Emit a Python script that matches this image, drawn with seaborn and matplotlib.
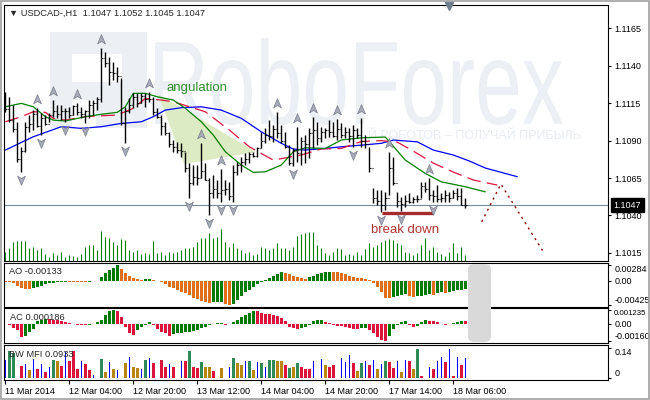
import numpy as np
import pandas as pd
import seaborn as sns
import matplotlib.pyplot as plt
from matplotlib.path import Path
from matplotlib.patches import Polygon, Rectangle, FancyBboxPatch, PathPatch
from matplotlib.textpath import TextPath
from matplotlib.font_manager import FontProperties
from matplotlib.transforms import Affine2D, offset_copy

# ---- data (USDCAD H1, one bar per index) ----
symbol = 'USDCAD-,H1'
first_open = 1.1115

highs = [
    1.11227, 1.11193, 1.11138, 1.11026, 1.10859, 1.11026, 1.11071, 1.11104, 1.11116, 1.11082,
    1.11071, 1.11082, 1.11171, 1.11138, 1.11138, 1.11116, 1.11126, 1.11138, 1.11149, 1.11126,
    1.11104, 1.11171, 1.11171, 1.11193, 1.11516, 1.11494, 1.11460, 1.11427, 1.11394, 1.11316,
    1.11126, 1.11182, 1.11216, 1.11216, 1.11216, 1.11216, 1.11227, 1.11193, 1.11116, 1.11071,
    1.11026, 1.10959, 1.10904, 1.10893, 1.10882, 1.10826, 1.10748, 1.10737, 1.10737, 1.10882,
    1.10748, 1.10648, 1.10670, 1.10637, 1.10710, 1.10637, 1.10625, 1.10737, 1.10759, 1.10792,
    1.10815, 1.10826, 1.10826, 1.10859, 1.10959, 1.10982, 1.11037, 1.11004, 1.11093, 1.11004,
    1.10959, 1.10870, 1.10848, 1.10991, 1.10926, 1.10937, 1.10982, 1.11057, 1.11026, 1.10993,
    1.10982, 1.11037, 1.11026, 1.11044, 1.11015, 1.10993, 1.10982, 1.11004, 1.10982, 1.11049,
    1.10937, 1.10859, 1.10581, 1.10570, 1.10570, 1.10559, 1.10826, 1.10792, 1.10559, 1.10525,
    1.10536, 1.10548, 1.10525, 1.10536, 1.10625, 1.10625, 1.10650, 1.10570, 1.10603, 1.10548,
    1.10570, 1.10559, 1.10570, 1.10581, 1.10581, 1.10520]
lows = [
    1.11093, 1.11026, 1.10959, 1.10759, 1.10692, 1.10826, 1.10959, 1.10971, 1.10993, 1.10937,
    1.11004, 1.11026, 1.11060, 1.11049, 1.11037, 1.11026, 1.11049, 1.11071, 1.11071, 1.11049,
    1.11015, 1.11049, 1.11071, 1.11104, 1.11160, 1.11394, 1.11271, 1.11305, 1.11293, 1.11004,
    1.10882, 1.11082, 1.11116, 1.11126, 1.11149, 1.11126, 1.11160, 1.11071, 1.11049, 1.10937,
    1.10937, 1.10859, 1.10826, 1.10815, 1.10792, 1.10692, 1.10514, 1.10603, 1.10603, 1.10648,
    1.10637, 1.10403, 1.10514, 1.10514, 1.10490, 1.10536, 1.10503, 1.10492, 1.10670, 1.10692,
    1.10737, 1.10748, 1.10792, 1.10792, 1.10848, 1.10882, 1.10904, 1.10893, 1.10915, 1.10882,
    1.10848, 1.10737, 1.10730, 1.10759, 1.10737, 1.10748, 1.10782, 1.10848, 1.10870, 1.10893,
    1.10915, 1.10926, 1.10926, 1.10904, 1.10915, 1.10915, 1.10893, 1.10859, 1.10915, 1.10859,
    1.10848, 1.10692, 1.10481, 1.10470, 1.10425, 1.10436, 1.10536, 1.10603, 1.10458, 1.10430,
    1.10458, 1.10481, 1.10481, 1.10492, 1.10514, 1.10559, 1.10503, 1.10490, 1.10492, 1.10492,
    1.10492, 1.10492, 1.10514, 1.10503, 1.10470, 1.10450]
closes = [
    1.1111, 1.1104, 1.1098, 1.1078, 1.1083, 1.1099, 1.1101, 1.1108, 1.1100, 1.1105,
    1.1101, 1.1107, 1.1110, 1.1108, 1.1110, 1.1110, 1.1107, 1.1113, 1.1109, 1.1108,
    1.1110, 1.1114, 1.1115, 1.1118, 1.1145, 1.1142, 1.1136, 1.1135, 1.1133, 1.1102,
    1.1110, 1.1114, 1.1119, 1.1115, 1.1120, 1.1118, 1.1118, 1.1109, 1.1106, 1.1100,
    1.1095, 1.1088, 1.1086, 1.1084, 1.1083, 1.1072, 1.1062, 1.1066, 1.1065, 1.1070,
    1.1064, 1.1055, 1.1058, 1.1055, 1.1057, 1.1058, 1.1053, 1.1069, 1.1074, 1.1076,
    1.1078, 1.1081, 1.1080, 1.1085, 1.1090, 1.1094, 1.1093, 1.1098, 1.1095, 1.1090,
    1.1086, 1.1075, 1.1084, 1.1082, 1.1090, 1.1088, 1.1095, 1.1097, 1.1092, 1.1096,
    1.1097, 1.1096, 1.1093, 1.1098, 1.1094, 1.1096, 1.1093, 1.1097, 1.1094, 1.1090,
    1.1088, 1.1072, 1.1052, 1.1050, 1.1047, 1.1052, 1.1072, 1.1062, 1.1050, 1.1048,
    1.1050, 1.1049, 1.1051, 1.1051, 1.1060, 1.1058, 1.1054, 1.1053, 1.1051, 1.1052,
    1.1054, 1.1052, 1.1055, 1.1053, 1.1047, 1.1047]
volumes = [
    930, 1270, 1930, 1970, 1970, 1970, 1270, 1400, 1070, 1270,
    700, 430, 830, 630, 930, 430, 600, 530, 430, 700,
    1400, 1570, 1630, 1070, 2970, 2400, 2300, 1900, 1570, 2230,
    2070, 1070, 930, 1070, 700, 830, 700, 1970, 770, 930,
    600, 930, 770, 930, 1100, 1330, 1330, 1430, 1930, 2330,
    2270, 2770, 2270, 2430, 3200, 1930, 1430, 1770, 1330, 1070,
    830, 930, 600, 670, 1430, 1330, 1100, 1270, 1770, 1330,
    1270, 1100, 1430, 2530, 2670, 2770, 2870, 2870, 1600, 1270,
    770, 600, 930, 1270, 1200, 600, 670, 600, 930, 600,
    1200, 1770, 1430, 1600, 1930, 2100, 2200, 2100, 1770, 1600,
    930, 830, 600, 770, 1600, 2270, 1100, 1430, 870, 670,
    530, 930, 1770, 770, 1400, 600]

up_fractals = [8, 12, 18, 24, 36, 49, 54, 68, 73, 77, 83, 89, 96, 106]
down_fractals = [4, 9, 15, 20, 30, 46, 51, 54, 57, 72, 87, 94, 99, 107]

# Alligator (shifted forward past the last bar)
jaw_k = [0, 7, 14, 19, 24, 29, 34, 37, 40, 44, 49, 54, 59, 64, 69, 72, 75, 80, 84, 89,
         94, 97, 103, 107, 112, 116, 120, 128]
jaw = [1.10837, 1.10926, 1.10993, 1.10982, 1.10993, 1.11015, 1.11026, 1.11060, 1.11104, 1.11120,
       1.11126, 1.11104, 1.11049, 1.10959, 1.10882, 1.10844, 1.10837, 1.10848, 1.10859, 1.10870,
       1.10882, 1.10904, 1.10892, 1.10837, 1.10804, 1.10764, 1.10717, 1.10659]
teeth_k = [0, 4, 7, 10, 12, 15, 20, 24, 28, 32, 35, 39, 42, 50, 56, 61, 67, 74, 79, 84,
           89, 94, 98, 102, 107, 112, 117, 123]
teeth = [1.11026, 1.11060, 1.11093, 1.11089, 1.11049, 1.11037, 1.11060, 1.11066, 1.11071, 1.11116,
         1.11182, 1.11171, 1.11160, 1.11093, 1.10971, 1.10859, 1.10770, 1.10804, 1.10844, 1.10848,
         1.10894, 1.10900, 1.10890, 1.10830, 1.10750, 1.10690, 1.10637, 1.10603]
lips_k = [0, 4, 7, 10, 12, 15, 20, 24, 28, 30, 32, 35, 38, 42, 45, 49, 52, 55, 59, 62,
          65, 69, 72, 75, 80, 84, 89, 95, 100, 105, 109, 115, 120]
lips = [1.11126, 1.11149, 1.11126, 1.11060, 1.11037, 1.11031, 1.11060, 1.11076, 1.11089, 1.11126,
        1.11216, 1.11216, 1.11193, 1.11171, 1.11116, 1.11026, 1.10937, 1.10826, 1.10737, 1.10688,
        1.10692, 1.10737, 1.10826, 1.10852, 1.10848, 1.10904, 1.10919, 1.10924, 1.10770, 1.10681,
        1.10625, 1.10592, 1.10558]

ao = [
    -0.00012, -0.00024, -0.00041, -0.00083, -0.00130, -0.00142, -0.00148, -0.00130, -0.00100, -0.00083,
    -0.00059, -0.00041, -0.00030, -0.00024, -0.00018, -0.00010, -0.00012, -0.00014, -0.00015, -0.00016,
    -0.00017, -0.00010, -0.00005, 0.00005, 0.00077, 0.00136, 0.00195, 0.00236, 0.00284, 0.00212,
    0.00136, 0.00094, 0.00059, 0.00035, 0.00024, 0.00035, 0.00036, 0.00024, 0.00002, -0.00024,
    -0.00059, -0.00100, -0.00130, -0.00160, -0.00189, -0.00218, -0.00248, -0.00295, -0.00325, -0.00354,
    -0.00366, -0.00385, -0.00380, -0.00375, -0.00370, -0.00410, -0.00425, -0.00400, -0.00340, -0.00265,
    -0.00200, -0.00160, -0.00100, -0.00060, -0.00024, 0.00024, 0.00060, 0.00094, 0.00118, 0.00153,
    0.00150, 0.00118, 0.00094, 0.00071, 0.00047, 0.00035, 0.00071, 0.00094, 0.00118, 0.00136,
    0.00153, 0.00165, 0.00160, 0.00153, 0.00136, 0.00118, 0.00094, 0.00071, 0.00059, 0.00055,
    0.00035, 0.00012, -0.00041, -0.00100, -0.00200, -0.00295, -0.00300, -0.00277, -0.00260, -0.00248,
    -0.00236, -0.00260, -0.00277, -0.00270, -0.00260, -0.00248, -0.00236, -0.00240, -0.00218, -0.00200,
    -0.00206, -0.00189, -0.00177, -0.00165, -0.00153, -0.00133]
ac = [
    -0.00005, -0.00015, -0.00040, -0.00060, -0.00120, -0.00115, -0.00075, -0.00050, 0.00020, 0.00035,
    0.00045, 0.00040, 0.00035, 0.00030, 0.00025, 0.00010, 0.00005, -0.00005, -0.00010, -0.00012,
    -0.00015, -0.00010, -0.00005, 0.00010, 0.00030, 0.00080, 0.00110, 0.00123, 0.00110, 0.00060,
    -0.00030, -0.00090, -0.00105, -0.00060, -0.00030, -0.00010, 0.00010, -0.00010, -0.00050, -0.00080,
    -0.00090, -0.00110, -0.00100, -0.00090, -0.00085, -0.00080, -0.00075, -0.00070, -0.00060, -0.00040,
    -0.00030, -0.00010, -0.00005, 0.00002, 0.00005, -0.00010, -0.00005, 0.00010, 0.00030, 0.00060,
    0.00080, 0.00100, 0.00115, 0.00112, 0.00100, 0.00090, 0.00085, 0.00080, 0.00070, 0.00050,
    0.00020, -0.00030, -0.00040, -0.00050, -0.00040, -0.00030, -0.00010, 0.00020, 0.00030, 0.00035,
    0.00010, 0.00005, -0.00010, -0.00020, -0.00022, -0.00030, -0.00040, -0.00050, -0.00052, -0.00045,
    -0.00040, -0.00060, -0.00090, -0.00120, -0.00150, -0.00160, -0.00110, -0.00050, -0.00010, 0.00010,
    0.00020, -0.00010, -0.00030, -0.00020, 0.00010, 0.00030, 0.00025, 0.00020, 0.00010, 0.00000,
    -0.00010, -0.00005, 0.00005, 0.00015, 0.00020, 0.000186]
mfi = [
    0.085, 0.123, 0.116, 0.0, 0.057, 0.065, 0.039, 0.090, 0.042, 0.067,
    0.028, 0.054, 0.083, 0.080, 0.057, 0.120, 0.077, 0.123, 0.044, 0.080,
    0.065, 0.039, 0.016, 0.0, 0.090, 0.031, 0.074, 0.044, 0.039, 0.0,
    0.070, 0.096, 0.051, 0.047, 0.044, 0.085, 0.093, 0.068, 0.0, 0.085,
    0.054, 0.067, 0.054, 0.0, 0.077, 0.077, 0.126, 0.053, 0.047, 0.073,
    0.051, 0.054, 0.036, 0.0, 0.047, 0.0, 0.051, 0.093, 0.070, 0.062,
    0.077, 0.077, 0.039, 0.074, 0.070, 0.054, 0.085, 0.085, 0.080, 0.080,
    0.062, 0.047, 0.050, 0.070, 0.054, 0.044, 0.044, 0.080, 0.0, 0.090,
    0.062, 0.054, 0.062, 0.0, 0.093, 0.074, 0.108, 0.070, 0.034, 0.070,
    0.077, 0.062, 0.085, 0.044, 0.065, 0.080, 0.073, 0.047, 0.080, 0.028,
    0.085, 0.077, 0.044, 0.135, 0.013, 0.0, 0.054, 0.044, 0.077, 0.096,
    0.073, 0.135, 0.013, 0.096, 0.062, 0.0933]
# BW MFI zones: G green, F fade, B fake, S squat, - nothing drawn
mfi_zone = ('BGG-SBFBSB' 'SBGFSBSSSB' 'SSB-GFBFB-' 'FBFFBGBS-S' 'SBS-BSGSSG'
            'FFS-F-BGFF' 'BGFBGBGGFF' 'SGFGSSSB-B' 'FSS-BBBSFG' 'BSBFBGSSBF'
            'BSFGS-BSBB' 'SBSBSB')

# analyst drawings
angle_k = [38.2, 44.7, 62.7]
angle_p = [1.11211, 1.10744, 1.10824]
break_k = [94.1, 107.0]
break_p = [1.10418, 1.10418]
proj_k = [119.1, 123.9, 134.5]
proj_p = [1.10358, 1.10610, 1.10158]

price_ticks = [1.1165, 1.1140, 1.1115, 1.1090, 1.1065, 1.1040, 1.1015]
time_ticks = [0, 16, 32, 48, 64, 80, 96, 112]
time_labels = ['11 Mar 2014', '12 Mar 04:00', '12 Mar 20:00', '13 Mar 12:00',
               '14 Mar 04:00', '14 Mar 20:00', '17 Mar 14:00', '18 Mar 06:00']

# ---- build frame ----
bars = pd.DataFrame({'high': highs, 'low': lows, 'close': closes, 'volume': volumes,
                     'ao': ao, 'ac': ac, 'mfi': mfi, 'zone': list(mfi_zone)})
bars['k'] = np.arange(len(bars))
bars['open'] = bars['close'].shift(1).fillna(first_open)

sns.set_style('white')
plt.rcParams['font.family'] = ['Liberation Sans', 'DejaVu Sans']
plt.rcParams['font.size'] = 6.5
plt.rcParams['axes.edgecolor'] = 'black'
plt.rcParams['axes.linewidth'] = 0.8

W, H = 650, 400


def px_rect(x0, y0, x1, y1):
    return [x0 / W, 1 - y1 / H, (x1 - x0) / W, (y1 - y0) / H]


fig = plt.figure(figsize=(6.5, 4), dpi=100, facecolor='white')
bg = fig.add_axes([0, 0, 1, 1], zorder=-5)
bg.set_xlim(0, W)
bg.set_ylim(H, 0)
bg.axis('off')

# watermark
wm_color = '#eceff3'
tp = TextPath((0, 0), 'RoboForex', size=100, prop=FontProperties(family='Liberation Sans'))
ext = tp.get_extents()
wm = Affine2D().translate(-ext.x0, -ext.y0).scale(408 / ext.width, -87 / ext.height).translate(155, 125)
bg.add_patch(PathPatch(tp, transform=wm + bg.transData, fc=wm_color, ec='none'))
bg.add_patch(Rectangle((50, 32), 97, 96, fc=wm_color, ec='none'))
bg.add_patch(Rectangle((72, 54), 50, 28, fc='white', ec='none'))
bg.add_patch(Rectangle((72, 100), 24, 28, fc='white', ec='none'))
bg.text(368, 136, 'Й РОБОТОВ – ПОЛУЧАЙ ПРИБЫЛЬ', fontsize=9, color='#e8ecf2', va='center')

ax = fig.add_axes(px_rect(4, 5, 608, 261))
ax_ao = fig.add_axes(px_rect(4, 263.3, 608, 306.7))
ax_ac = fig.add_axes(px_rect(4, 308.3, 608, 343.3))
ax_mfi = fig.add_axes(px_rect(4, 345, 608, 380))
for a in (ax, ax_ao, ax_ac, ax_mfi):
    a.set_facecolor('none')

# ---- main price panel ----
ax.add_patch(Polygon(list(zip(angle_k, angle_p)), closed=True, fc='#dcebc3', ec='none', zorder=0.5))
sns.lineplot(x=jaw_k, y=jaw, ax=ax, color='#0000ff', linewidth=0.9, zorder=2)
sns.lineplot(x=teeth_k, y=teeth, ax=ax, color='#dc143c', linewidth=0.9,
             linestyle=(0, (11, 5)), zorder=2)
sns.lineplot(x=lips_k, y=lips, ax=ax, color='#008000', linewidth=0.9, zorder=2)

ax.vlines(bars['k'], bars['low'], bars['high'], color='black', lw=1.0, zorder=3)
ax.hlines(bars['open'], bars['k'] - 0.45, bars['k'], color='black', lw=0.8, zorder=3)
ax.hlines(bars['close'], bars['k'], bars['k'] + 0.45, color='black', lw=0.8, zorder=3)

arrow_codes = [Path.MOVETO, Path.LINETO, Path.LINETO, Path.LINETO, Path.CLOSEPOLY]
up_arrow = Path([(0, 1), (0.8, -0.9), (0, -0.4), (-0.8, -0.9), (0, 1)], arrow_codes)
down_arrow = Path([(0, -1), (0.8, 0.9), (0, 0.4), (-0.8, 0.9), (0, -1)], arrow_codes)
up = bars.loc[up_fractals]
dn = bars.loc[down_fractals]
ax.plot(up['k'], up['high'], ls='none', marker=up_arrow, ms=7, mfc='#a8abb8', mec='#787c8c',
        mew=0.5, zorder=4, transform=offset_copy(ax.transData, fig=fig, y=9, units='dots'))
ax.plot(dn['k'], dn['low'], ls='none', marker=down_arrow, ms=7, mfc='#a8abb8', mec='#787c8c',
        mew=0.5, zorder=4, transform=offset_copy(ax.transData, fig=fig, y=-8, units='dots'))

last = bars.iloc[-1]
ax.axhline(last['close'], color='#7b8a99', lw=0.8, zorder=1)
ax.plot(break_k, break_p, color='#a52a2a', lw=2.4, solid_capstyle='butt', zorder=3)
ax.plot(proj_k, proj_p, color='#8b0000', lw=1.0, linestyle=(0, (1.5, 3)), zorder=3)
ax.text(47.9, 1.1125, 'angulation', color='#2f8f2f', fontsize=9.5, ha='center', va='center', zorder=5)
ax.text(99.9, 1.10303, 'break down', color='#b03434', fontsize=9.5, ha='center', va='center', zorder=5)

ax.text(0.008, 0.968, '▼ ' + symbol + '  ' + ' '.join(
    f'{v:.4f}' for v in (last['open'], last['high'], last['low'], last['close'])),
    transform=ax.transAxes, fontsize=6.7, va='center', ha='left', zorder=6)

ax.annotate(f"{last['close']:.4f}", xy=(1, last['close']), xycoords=('axes fraction', 'data'),
            xytext=(4, 0), textcoords='offset points', color='white', fontsize=6.5,
            va='center', ha='left', annotation_clip=False,
            bbox=dict(boxstyle='square,pad=0.3', fc='black', ec='black'))

axv = ax.twinx()
axv.vlines(bars['k'], 0, bars['volume'], color='#008000', lw=0.8)
axv.set_ylim(0, 25600)
axv.set_axis_off()
axv.set_zorder(-1)

# ---- indicator panels ----
ao_up = bars['ao'].diff() > 0
ax_ao.bar(bars['k'], bars['ao'], width=0.75, lw=0,
          color=np.where(ao_up, '#007a00', '#de6f1f'))
ac_up = bars['ac'].diff() > 0
ax_ac.bar(bars['k'], bars['ac'], width=0.75, lw=0,
          color=np.where(ac_up, '#007a00', '#dc143c'))
zone_colors = {'G': '#2e8b57', 'F': '#b8860b', 'S': '#dc143c', 'B': '#0000ff'}
wide = bars[bars['zone'].isin(['G', 'F', 'S'])]
thin = bars[bars['zone'] == 'B']
ax_mfi.bar(wide['k'], wide['mfi'], width=0.75, lw=0, color=[zone_colors[z] for z in wide['zone']])
ax_mfi.bar(thin['k'], thin['mfi'], width=0.28, lw=0, color=zone_colors['B'])

ax_ao.text(0.008, 0.80, f"AO {ao[-1]:.5f}", transform=ax_ao.transAxes, va='center', fontsize=6.7)
ax_ac.text(0.010, 0.73, f"AC {ac[-1]:.6f}", transform=ax_ac.transAxes, va='center', fontsize=6.7)
ax_mfi.text(0.008, 0.73, f"BW MFI {mfi[-1]:.4f}", transform=ax_mfi.transAxes, va='center', fontsize=6.7)

# ---- axes ----
for a in (ax, ax_ao, ax_ac, ax_mfi):
    a.set_xlim(-0.325, 150.675)
    a.set_xlabel('')
    a.set_ylabel('')
    a.yaxis.tick_right()
    a.tick_params(axis='y', which='both', direction='out', length=2.5, width=0.8, pad=2,
                  labelsize=6.5, colors='black', right=True, left=False)
    a.tick_params(axis='x', bottom=False, labelbottom=False)
    for s in a.spines.values():
        s.set_color('black')
        s.set_linewidth(0.8)

ax.set_ylim(1.10096, 1.11806)
ax.set_yticks(price_ticks, [f'{p:.4f}' for p in price_ticks])

ax_ao.set_ylim(-0.00455, 0.00313)
ax_ao.set_yticks([0.00284, 0.0, -0.00425], ['0.00284', '0.00', '-0.00425'])
ax_ac.set_ylim(-0.00181, 0.00139)
ax_ac.set_yticks([0.001235, 0.0, -0.0016], ['0.001235', '0.00', '-0.00160'])
ax_mfi.set_ylim(-0.0068, 0.1513)
ax_mfi.set_yticks([0.14, 0.0], ['0.14', '0'])
for a in (ax_ao, ax_ac, ax_mfi):
    ticks = a.yaxis.get_major_ticks()
    ticks[0].label2.set_va('top')
    ticks[-1].label2.set_va('bottom')
# the long AC label only just fits inside the window
ax_ac.yaxis.get_major_ticks()[0].label2.set_fontsize(5.7)

ax_mfi.set_xticks(time_ticks, time_labels, ha='left')
ax_mfi.tick_params(axis='x', bottom=True, labelbottom=True, direction='out', length=3,
                   width=0.8, pad=2, labelsize=6.5, colors='black')

# ---- window chrome ----
fg = fig.add_axes([0, 0, 1, 1], zorder=10)
fg.set_xlim(0, W)
fg.set_ylim(H, 0)
fg.axis('off')
fg.add_patch(FancyBboxPatch((471, 267), 17, 72, boxstyle='round,pad=3,rounding_size=6',
                            fc='#d9d9d9', ec='none'))
fg.add_patch(Rectangle((0.7, 0.7), W - 1.4, H - 1.4, fill=False, ec='#a0a0a0', lw=1.2))
fg.plot([449], [6], marker='v', ms=6, color='#6f7f8f', ls='none')

fig.savefig('out.png', dpi=100)
